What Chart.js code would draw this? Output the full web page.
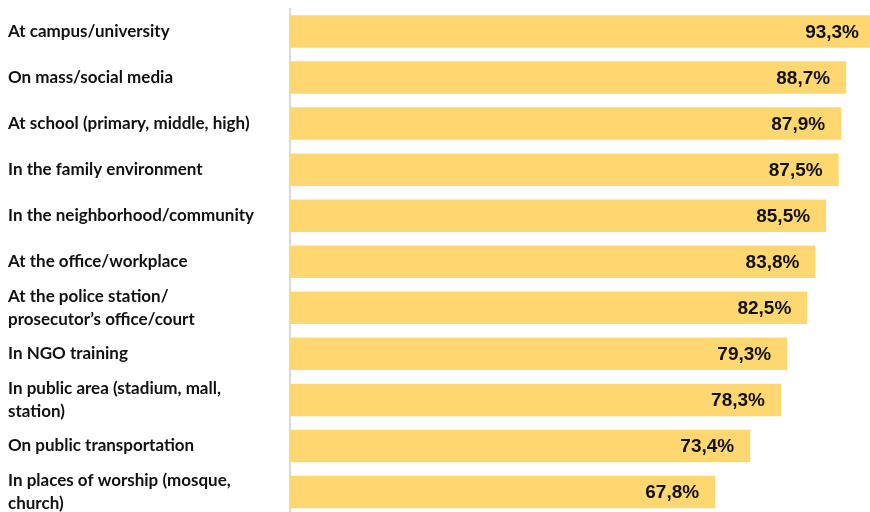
<!DOCTYPE html>
<html>
<head>
<meta charset="utf-8">
<script src="https://cdn.jsdelivr.net/npm/chart.js@4/dist/chart.umd.min.js"></script>
<style>
  html, body { margin: 0; padding: 0; background: #ffffff; overflow: hidden; width: 870px; height: 512px; }
  canvas { display: block; }
</style>
</head>
<body>
<canvas id="chart" width="870" height="515"></canvas>
<script>
// Places where respondents encountered the topic (share of respondents, %)
const categories = [
  "At campus/university",
  "On mass/social media",
  "At school (primary, middle, high)",
  "In the family environment",
  "In the neighborhood/community",
  "At the office/workplace",
  ["At the police station/", "prosecutor\u2019s office/court"],
  "In NGO training",
  ["In public area (stadium, mall,", "station)"],
  "On public transportation",
  ["In places of worship (mosque,", "church)"]
];
const shares = [93.3, 88.7, 87.9, 87.5, 85.5, 83.8, 82.5, 79.3, 78.3, 73.4, 67.8];

const formatShare = v => v.toFixed(1).replace('.', ',') + '%';

// Writes the value inside the end of every bar
const barValueLabels = {
  id: 'barValueLabels',
  afterDatasetsDraw(chart) {
    const ctx = chart.ctx;
    const meta = chart.getDatasetMeta(0);
    ctx.save();
    ctx.font = 'bold 19px "Liberation Sans", Arial, sans-serif';
    ctx.fillStyle = '#111111';
    ctx.textAlign = 'right';
    ctx.textBaseline = 'middle';
    meta.data.forEach((bar, i) => {
      ctx.fillText(formatShare(shares[i]), bar.x - 16, bar.y + 1);
    });
    ctx.restore();
  }
};

new Chart(document.getElementById('chart'), {
  type: 'bar',
  data: {
    labels: categories,
    datasets: [{
      data: shares,
      backgroundColor: '#FFD770',
      borderWidth: 0,
      categoryPercentage: 1,
      barPercentage: 0.706
    }]
  },
  options: {
    indexAxis: 'y',
    responsive: false,
    animation: false,
    devicePixelRatio: 1,
    layout: { padding: { left: 8, top: 8.5, right: 0, bottom: 0 } },
    plugins: {
      legend: { display: false },
      tooltip: { enabled: false }
    },
    scales: {
      x: {
        display: false,
        min: 0,
        max: 92.5
      },
      y: {
        offset: true,
        grid: { display: false, drawTicks: false },
        border: { display: true, color: '#d9d9d9', width: 2 },
        ticks: {
          autoSkip: false,
          crossAlign: 'far',
          color: '#111111',
          padding: 0,
          font: { family: 'Lato, "Open Sans", sans-serif', size: 17, weight: 'bold', lineHeight: 1.35 }
        },
        afterFit(scale) {
          scale.width = 282;
          scale.paddingTop = 0;
          scale.paddingBottom = 0;
        }
      }
    }
  },
  plugins: [barValueLabels]
});
</script>
</body>
</html>
